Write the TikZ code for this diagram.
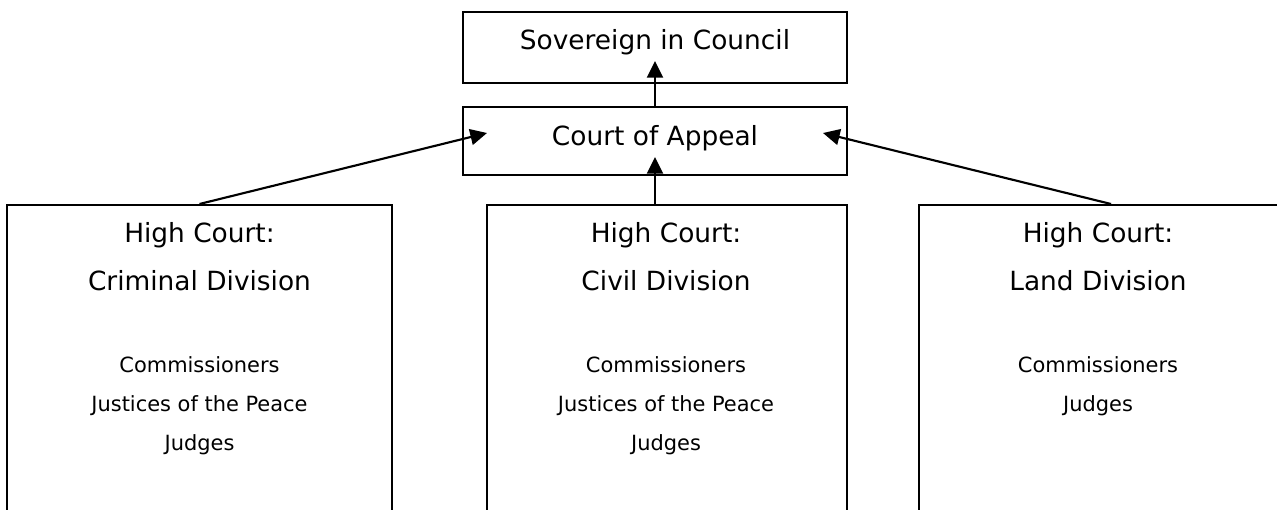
\documentclass[tikz,border=0pt]{standalone}
\usepackage{fontspec}
\setmainfont{DejaVu Sans}
\usetikzlibrary{arrows.meta}

\begin{document}
\begin{tikzpicture}[x=0.75pt, y=-0.75pt, >={Triangle[length=12.5pt,width=12pt]},
  box/.style={rectangle, draw, line width=1.3pt, inner sep=0pt},
  big/.style={anchor=base, font=\fontsize{19.8}{24}\selectfont},
  small/.style={anchor=base, font=\fontsize{15.7}{20}\selectfont},
  link/.style={->, line width=1.6pt}]
  \useasboundingbox (0,0) rectangle (1277,510);
  % Boxes
  \node[box, minimum width=288pt, minimum height=53.25pt] (sov) at (655,47.5) {};
  \node[box, minimum width=288pt, minimum height=51pt] (coa) at (655,141) {};
  \node[box, anchor=north, minimum width=288.75pt, minimum height=330pt] (crim) at (199.5,204) {};
  \node[box, anchor=north, minimum width=270pt, minimum height=330pt] (civ) at (667,204) {};
  \node[box, anchor=north, minimum width=271.5pt, minimum height=330pt] (land) at (1100,204) {};

  % Texts
  \node[big] (sovtext) at (655,50) {Sovereign in Council};
  \node[big] (coatext) at (655,145) {Court of Appeal};

  \node[big] (crimhead) at (199.5,242) {High Court:};
  \node[big] (crimname) at (199.5,290) {Criminal Division};
  \node[small] (crimcom) at (199.5,372) {Commissioners};
  \node[small] (crimjp) at (199.5,411) {Justices of the Peace};
  \node[small] (crimjud) at (199.5,450) {Judges};

  \node[big] (civhead) at (666,242) {High Court:};
  \node[big] (civname) at (666,290) {Civil Division};
  \node[small] (civcom) at (666,372) {Commissioners};
  \node[small] (civjp) at (666,411) {Justices of the Peace};
  \node[small] (civjud) at (666,450) {Judges};

  \node[big] (landhead) at (1098,242) {High Court:};
  \node[big] (landname) at (1098,290) {Land Division};
  \node[small] (landcom) at (1098,372) {Commissioners};
  \node[small] (landjud) at (1098,411) {Judges};

  % Arrow ends
  \coordinate (sovin) at (655,61);
  \coordinate (coaleft) at (487,133);
  \coordinate (coaright) at (823,133);
  \coordinate (coain) at (655,157);
  \coordinate (civtop) at (655,204);
  \coordinate (landtop) at (1111,204);

  % Edges
  \draw[link] (coa.north) -- (sovin);
  \draw[link] (crim.north) -- (coaleft);
  \draw[link] (civtop) -- (coain);
  \draw[link] (landtop) -- (coaright);
\end{tikzpicture}
\end{document}
